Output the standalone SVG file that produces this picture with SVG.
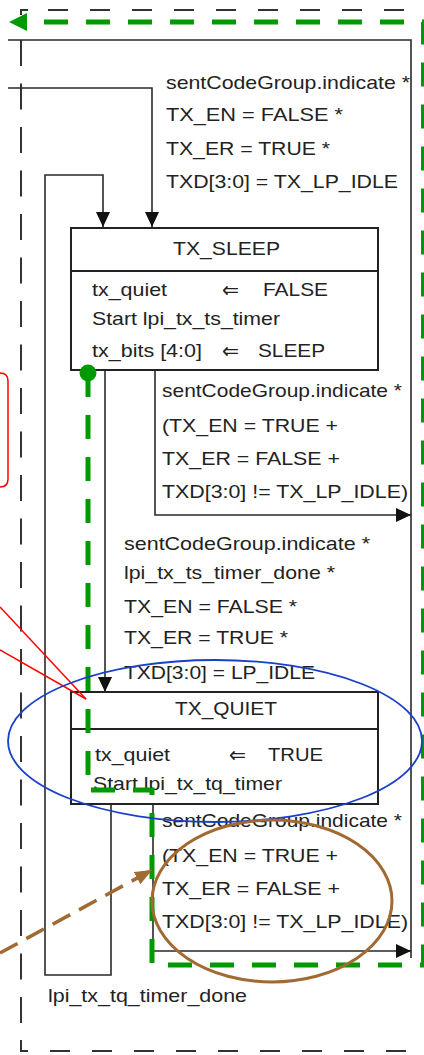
<svg xmlns="http://www.w3.org/2000/svg" width="424" height="1055" viewBox="0 0 424 1055">
  <style>
    text { font-family: "Liberation Sans", Arial, "DejaVu Sans", sans-serif; font-size: 19px; fill: #222; }
    .title { text-anchor: middle; }
    .assign { font-family: "DejaVu Sans", sans-serif; font-size: 21px; }
    .wire { fill: none; stroke: #2a2a2a; stroke-width: 1.6; }
    .box { fill: #fff; stroke: #222; stroke-width: 2; }
    .frame { fill: none; stroke: #333; stroke-width: 2; }
    .path-hl { fill: none; stroke: #009a00; stroke-width: 5; stroke-dasharray: 24 18; }
  </style>
  <defs>
    <marker id="arrow" markerUnits="userSpaceOnUse" markerWidth="15" markerHeight="14" viewBox="0 0 15 14" refX="15" refY="7" orient="auto">
      <path d="M0,0 L15,7 L0,14 z" fill="#111"/>
    </marker>
    <marker id="greenHead" markerUnits="userSpaceOnUse" markerWidth="18" markerHeight="18" viewBox="0 0 18 18" refX="0" refY="9" orient="auto">
      <path d="M0,0 L18,9 L0,18 z" fill="#009a00"/>
    </marker>
    <marker id="brownHead" markerUnits="userSpaceOnUse" markerWidth="17" markerHeight="14" viewBox="0 0 17 14" refX="17" refY="7" orient="auto">
      <path d="M0,0 L17,7 L0,14 z" fill="#a06a32"/>
    </marker>
  </defs>

  <!-- dashed outer frame -->
  <g id="frame">
    <path class="frame" d="M21,15 V10 H28"/>
    <path class="frame" d="M48,10 H424" stroke-dasharray="20 22"/>
    <path class="frame" d="M21,40 V1051" stroke-dasharray="26 17.5"/>
    <path class="frame" d="M21,1040 V1051 H28"/>
    <path class="frame" d="M50,1051 H424" stroke-dasharray="20 22"/>
  </g>

  <!-- transitions -->
  <g id="connectors">
    <path class="wire" d="M8,40 H411 V958"/>
    <path class="wire" d="M8,88 H152 V227" marker-end="url(#arrow)"/>
    <path class="wire" d="M111,804 V975 H45 V175 H103 V227" marker-end="url(#arrow)"/>
    <path class="wire" d="M105,370 V692" marker-end="url(#arrow)"/>
    <path class="wire" d="M155,368 V515 H411" marker-end="url(#arrow)"/>
    <path class="wire" d="M153,804 V951 H411" marker-end="url(#arrow)"/>
  </g>

  <!-- entry conditions into TX_SLEEP -->
  <g id="cond-enter-sleep">
    <text x="166" y="89" textLength="244" lengthAdjust="spacingAndGlyphs">sentCodeGroup.indicate *</text>
    <text x="166" y="121" textLength="177" lengthAdjust="spacingAndGlyphs">TX_EN = FALSE *</text>
    <text x="166" y="155" textLength="164" lengthAdjust="spacingAndGlyphs">TX_ER = TRUE *</text>
    <text x="166" y="188" textLength="232" lengthAdjust="spacingAndGlyphs">TXD[3:0] = TX_LP_IDLE</text>
  </g>

  <g id="tx-sleep">
    <rect class="box" x="71" y="228" width="307" height="142"/>
    <line class="box" x1="71" y1="271" x2="378" y2="271"/>
    <text class="title" x="226.5" y="255" textLength="107" lengthAdjust="spacingAndGlyphs">TX_SLEEP</text>
    <text x="92" y="296" textLength="75" lengthAdjust="spacingAndGlyphs">tx_quiet</text>
    <text class="assign" x="222" y="297" textLength="17" lengthAdjust="spacingAndGlyphs">⇐</text>
    <text x="263" y="296" textLength="65" lengthAdjust="spacingAndGlyphs">FALSE</text>
    <text x="92" y="325" textLength="188" lengthAdjust="spacingAndGlyphs">Start lpi_tx_ts_timer</text>
    <text x="92" y="357" textLength="110" lengthAdjust="spacingAndGlyphs">tx_bits [4:0]</text>
    <text class="assign" x="222" y="358" textLength="17" lengthAdjust="spacingAndGlyphs">⇐</text>
    <text x="258" y="357" textLength="67" lengthAdjust="spacingAndGlyphs">SLEEP</text>
  </g>

  <g id="cond-sleep-exit">
    <text x="162" y="397" textLength="240" lengthAdjust="spacingAndGlyphs">sentCodeGroup.indicate *</text>
    <text x="162" y="432" textLength="176" lengthAdjust="spacingAndGlyphs">(TX_EN = TRUE +</text>
    <text x="162" y="465" textLength="178" lengthAdjust="spacingAndGlyphs">TX_ER = FALSE +</text>
    <text x="162" y="498" textLength="246" lengthAdjust="spacingAndGlyphs">TXD[3:0] != TX_LP_IDLE)</text>
  </g>

  <g id="cond-sleep-quiet">
    <text x="124" y="550" textLength="246" lengthAdjust="spacingAndGlyphs">sentCodeGroup.indicate *</text>
    <text x="124" y="579" textLength="211" lengthAdjust="spacingAndGlyphs">lpi_tx_ts_timer_done *</text>
    <text x="124" y="613" textLength="173" lengthAdjust="spacingAndGlyphs">TX_EN = FALSE *</text>
    <text x="124" y="644" textLength="164" lengthAdjust="spacingAndGlyphs">TX_ER = TRUE *</text>
    <text x="124" y="679" textLength="191" lengthAdjust="spacingAndGlyphs">TXD[3:0] = LP_IDLE</text>
  </g>

  <g id="tx-quiet">
    <rect class="box" x="71" y="692" width="307" height="112"/>
    <line class="box" x1="71" y1="729" x2="378" y2="729"/>
    <text class="title" x="226" y="715" textLength="102" lengthAdjust="spacingAndGlyphs">TX_QUIET</text>
    <text x="95" y="761" textLength="75" lengthAdjust="spacingAndGlyphs">tx_quiet</text>
    <text class="assign" x="229" y="762" textLength="17" lengthAdjust="spacingAndGlyphs">⇐</text>
    <text x="268" y="761" textLength="55" lengthAdjust="spacingAndGlyphs">TRUE</text>
    <text x="93" y="790" textLength="189" lengthAdjust="spacingAndGlyphs">Start lpi_tx_tq_timer</text>
  </g>

  <g id="cond-quiet-exit">
    <text x="162" y="827" textLength="240" lengthAdjust="spacingAndGlyphs">sentCodeGroup.indicate *</text>
    <text x="162" y="862" textLength="176" lengthAdjust="spacingAndGlyphs">(TX_EN = TRUE +</text>
    <text x="162" y="895" textLength="178" lengthAdjust="spacingAndGlyphs">TX_ER = FALSE +</text>
    <text x="162" y="928" textLength="246" lengthAdjust="spacingAndGlyphs">TXD[3:0] != TX_LP_IDLE)</text>
  </g>

  <g id="cond-quiet-timer">
    <text x="48" y="1002" textLength="199" lengthAdjust="spacingAndGlyphs">lpi_tx_tq_timer_done</text>
  </g>

  <!-- highlighted path through the states -->
  <g id="highlight-path">
    <circle cx="88" cy="373" r="8.5" fill="#009a00"/>
    <path class="path-hl" d="M88,373 V790 H152 V965 H423.5 V22 H27" marker-end="url(#greenHead)"/>
  </g>

  <!-- annotations -->
  <g id="annotations">
    <path d="M-10,373 H0 Q8,373 8,381 V479 Q8,487 0,487 H-10" fill="none" stroke="#ff0000" stroke-width="1.5"/>
    <line x1="0" y1="607" x2="86" y2="699" stroke="#ff0000" stroke-width="1.5"/>
    <line x1="0" y1="650" x2="86" y2="699" stroke="#ff0000" stroke-width="1.5"/>
    <ellipse cx="215" cy="741" rx="207" ry="81" fill="none" stroke="#1a3fc8" stroke-width="1.8"/>
    <ellipse cx="272" cy="901" rx="120" ry="81" fill="none" stroke="#a06a32" stroke-width="3"/>
    <line x1="0" y1="953" x2="152" y2="870" stroke="#a06a32" stroke-width="3.5" stroke-dasharray="20 10" marker-end="url(#brownHead)"/>
  </g>
</svg>
